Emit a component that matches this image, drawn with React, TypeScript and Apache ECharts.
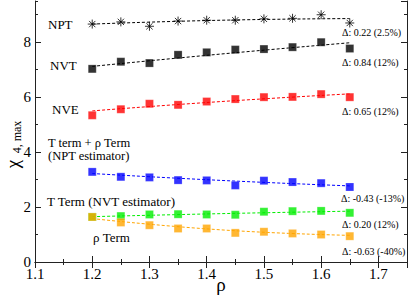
import React, { useEffect, useRef } from "react";
import * as echarts from "echarts";

const rho = [1.2, 1.25, 1.3, 1.35, 1.4, 1.45, 1.5, 1.55, 1.6, 1.65];
const npt = [8.66, 8.74, 8.58, 8.77, 8.8, 8.8, 8.85, 8.87, 9.0, 8.7];
const nvt = [7.03, 7.29, 7.24, 7.54, 7.63, 7.73, 7.75, 7.82, 8.0, 7.77];
const nve = [5.34, 5.56, 5.76, 5.72, 5.84, 5.93, 6.0, 6.01, 6.11, 6.0];
const tRho = [3.28, 3.1, 3.08, 2.98, 2.97, 2.79, 2.96, 2.91, 2.87, 2.73];
const tTerm = [1.64, 1.67, 1.73, 1.74, 1.73, 1.72, 1.83, 1.85, 1.86, 1.79];
const rhoTerm = [1.64, 1.44, 1.34, 1.22, 1.22, 1.06, 1.1, 1.04, 1.0, 0.94];

const fitX = [1.2, 1.425, 1.65];
const fitNpt = [8.66, 8.8, 8.86];
const fitNvt = [7.12, 7.57, 7.98];
const fitNve = [5.5, 5.84, 6.12];
const fitTRho = [3.22, 2.97, 2.77];
const fitT = [1.65, 1.76, 1.85];
const fitRho = [1.58, 1.17, 0.97];

const labels = ["NPT", "NVT", "NVE", "T term + ρ Term", "(NPT estimator)", "T Term (NVT estimator)", "ρ Term"];
const deltas = ["Δ: 0.22 (2.5%)", "Δ: 0.84 (12%)", "Δ: 0.65 (12%)", "Δ: -0.43 (-13%)", "Δ: 0.20 (12%)", "Δ: -0.63 (-40%)"];

const SERIF = "Liberation Serif";
const STAR = "path://M5,0L5,10M0,5L10,5M1.5,1.5L8.5,8.5M1.5,8.5L8.5,1.5";

export default function App() {
  const ref = useRef<HTMLDivElement>(null);
  useEffect(() => {
    if (!ref.current) return;
    const chart = echarts.init(ref.current, null, { renderer: "svg" });
    const pair = (xs: number[], ys: number[]) => xs.map((x, i) => [x, ys[i]]);
    const fit = (ys: number[], color: string) => ({
      type: "line",
      data: pair(fitX, ys),
      smooth: true,
      showSymbol: false,
      symbol: "none",
      lineStyle: { color, width: 1, type: [3, 2] },
      silent: true,
      z: 2,
    });
    const pts = (ys: number[], color: string) => ({
      type: "scatter",
      data: pair(rho, ys),
      symbol: "rect",
      symbolSize: 8,
      itemStyle: { color, borderColor: "rgba(255,255,255,0.5)", borderWidth: 0.5 },
      z: 3,
    });
    const axisLine = { show: true, lineStyle: { color: "#222", width: 1 } };
    const tick = (len: number) => ({ show: true, inside: true, length: len, lineStyle: { color: "#222", width: 1 } });
    const xBase = { type: "value", min: 1.1, max: 1.75, splitLine: { show: false } };
    const yBase = { type: "value", min: 0, max: 9.5, splitLine: { show: false } };
    const lbl = { color: "#000", fontFamily: SERIF, fontSize: 15 };
    const text = (t: string, x: number, y: number, size: number) => ({
      type: "text",
      x,
      y,
      style: { text: t, fill: "#000", fontFamily: SERIF, fontSize: size, verticalAlign: "middle" },
      silent: true,
    });
    chart.setOption({
      animation: false,
      grid: { left: 35, right: 2, top: 1, bottom: 33 },
      xAxis: [
        { ...xBase, position: "bottom", interval: 0.1, axisLine, axisTick: tick(6),
          axisLabel: { ...lbl, margin: 4, showMaxLabel: false, formatter: (v: number) => v.toFixed(1) } },
        { ...xBase, position: "bottom", interval: 0.05, axisLine: { show: false }, axisTick: tick(3), axisLabel: { show: false } },
        { ...xBase, position: "top", interval: 0.1, axisLine, axisTick: tick(6), axisLabel: { show: false } },
        { ...xBase, position: "top", interval: 0.05, axisLine: { show: false }, axisTick: tick(3), axisLabel: { show: false } },
      ],
      yAxis: [
        { ...yBase, position: "left", interval: 2, axisLine, axisTick: tick(6),
          axisLabel: { ...lbl, margin: 4, showMaxLabel: false } },
        { ...yBase, position: "left", interval: 1, axisLine: { show: false }, axisTick: tick(3), axisLabel: { show: false } },
        { ...yBase, position: "right", interval: 2, axisLine, axisTick: tick(6), axisLabel: { show: false } },
        { ...yBase, position: "right", interval: 1, axisLine: { show: false }, axisTick: tick(3), axisLabel: { show: false } },
      ],
      series: [
        fit(fitNpt, "#000"),
        fit(fitNvt, "#000"),
        fit(fitNve, "#ff0000"),
        fit(fitTRho, "#0000ff"),
        fit(fitT, "#00ee00"),
        fit(fitRho, "#ffa500"),
        {
          type: "scatter",
          data: pair(rho, npt),
          symbol: STAR,
          symbolSize: 9,
          itemStyle: { color: "rgba(0,0,0,0)", borderColor: "#000", borderWidth: 1 },
          z: 3,
        },
        pts(nvt, "#000"),
        pts(nve, "#ff0000"),
        pts(tRho, "#0000ff"),
        pts(tTerm, "#00ee00"),
        pts(rhoTerm, "#ffa500"),
      ],
      graphic: [
        text(labels[0], 48, 24, 13),
        text(labels[1], 50, 65, 13),
        text(labels[2], 52, 109, 13),
        text(labels[3], 48, 143, 12.5),
        text(labels[4], 48, 156, 12.5),
        text(labels[5], 47, 201, 13),
        text(labels[6], 93, 237, 13),
        text(deltas[0], 342, 32, 10),
        text(deltas[1], 342, 62, 10),
        text(deltas[2], 342, 111, 10),
        text(deltas[3], 341, 198, 10),
        text(deltas[4], 342, 224, 10),
        text(deltas[5], 342, 251, 10),
        { type: "text", x: 12, y: 164, rotation: Math.PI / 2,
          style: { text: "χ", fill: "#000", fontFamily: SERIF, fontSize: 19, align: "center", verticalAlign: "middle" }, silent: true },
        { type: "text", x: 17, y: 137, rotation: Math.PI / 2,
          style: { text: "4, max", fill: "#000", fontFamily: SERIF, fontSize: 12, align: "center", verticalAlign: "middle" }, silent: true },
        { type: "text", x: 221, y: 284,
          style: { text: "ρ", fill: "#000", fontFamily: SERIF, fontSize: 19, align: "center", verticalAlign: "middle" }, silent: true },
      ],
    });
    return () => chart.dispose();
  }, []);
  return <div ref={ref} style={{ width: 409, height: 295, position: "absolute", left: 0, top: 0 }} />;
}
